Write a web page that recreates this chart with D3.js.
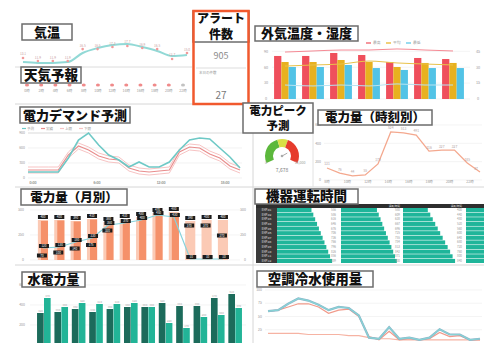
<!DOCTYPE html>
<html><head><meta charset="utf-8">
<script src="https://cdn.jsdelivr.net/npm/d3@7"></script>
<style>
body{margin:0;background:#fff;}
svg{display:block;font-family:"Noto Sans CJK JP","Noto Sans",sans-serif;}
</style>
</head><body>
<svg id="c" width="484" height="343"></svg>
<script>
// ---------------- DATA ----------------
const tempHours = ["0時","2時","4時","6時","8時","10時","12時","14時","16時","18時","20時","22時"];
const tempObserved = [11.5,11.2,11.2,11.5,15.0,16.9,18.1,18.5,17.3,15.8,13.8,14.2];
const tempForecast = [13.1,11.9,11.9,11.9,16.5,16.5,17.3,17.7,16.9,16.5,12.7,15.0];

const weatherHours = ["0時","2時","4時","6時","8時","10時","12時","14時","16時","18時","20時","22時"];
const weatherKinds = ["晴","晴","晴","晴","晴","晴","晴","晴","晴","晴","晴","曇"];

const alertTotal = "905";
const alertToday = "27";
const alertSub = "本日の件数";

const outdoorDays = ["月","火","水","木","金","土","日"];
const outdoorMax = [40.6,40.6,43.4,41.5,34.9,38.7,37.7];
const outdoorAvg = [34.9,34.9,36.8,34.9,30.2,34.0,34.0];
const outdoorMin = [30.2,30.2,32.1,29.2,27.4,29.2,29.2];
const outdoorHumLine = [44.3,45.3,46.2,46.2,47.2,46.2,45.3];
const outdoorAvgLine = [31.1,32.1,33.0,35.8,34.0,33.0,32.1];
const outdoorLowLine = [13.2,12.3,13.2,12.3,14.2,13.2,13.2];
const outdoorLegend = ["最高","平均","最低"];
const outdoorTicks = [0,15,30,45];

const demandTicks = ["0:00","6:00","12:00","18:00","0:00","6:00","12:00","18:00"];
const demandForecast = [120,120,120,120,400,760,900,660,460,360,220,320,220,220,320,560,760,800,780,600,420,200];
const demandActual   = [160,160,160,160,460,640,560,440,380,360,200,140,120,140,160,520,620,600,480,400,240,160];
const demandUpper    = [220,220,220,220,520,700,620,500,440,420,260,200,180,200,220,580,680,660,540,460,300,220];
const demandLower    = [100,100,100,100,400,580,500,380,320,300,140,80,60,80,100,460,560,540,420,340,180,100];
const demandLegend = ["予測","実績","上限","下限"];

const peakValue = 7678;
const peakMax = 10000;
const peakBands = [0,4300,5900,10000];

const hourlyLabels = ["8時","9時","10時","11時","12時","13時","14時","15時","16時","17時","18時","19時","20時"];
const hourlyPower = [131,76,44,55,175,524,513,491,316,327,327,185,87];
const hourlyTicks = ["8時","10時","12時","14時","16時","18時","20時","22時"];

const months = ["4月","5月","6月","7月","8月","9月","10月","11月","12月","1月","2月","3月"];
const monthlyPrev = [400,400,390,410,380,410,430,470,480,390,400,400];
const monthlyCurr = [390,395,385,405,375,400,420,460,470,0,0,0];
const monthlyLine = [120,130,180,220,350,370,400,450,430,10,10,10];
const monthlyTarget = [70,100,140,175,320,null,null,null,null,370,370,270];

const machineRows = ["EHP-01","EHP-02","EHP-03","EHP-04","EHP-05","EHP-06","EHP-07","EHP-08","EHP-09","EHP-10","EHP-11","EHP-12"];
const machineHeaders = ["運転時間","運転時間","運転時間","運転時間"];
const runHours1 = [556,586,616,646,676,706,736,766,796,826,856,889];
const runHours2 = [580,609,638,667,696,725,755,784,813,842,871,900];
const runHours3 = [400,440,480,520,560,600,640,680,720,760,800,840];
const runHours4 = [950,955,960,965,970,975,980,985,990,995,998,1000];

const waterMonths = ["4月","5月","6月","7月","8月","9月","10月","11月","12月","1月","2月","3月"];
const waterPrev = [320,330,360,330,360,380,380,420,390,390,470,510];
const waterCurr = [470,380,420,410,410,420,380,220,170,280,300,370];

const chillCyan = [60,62,74,84,80,72,62,68,66,52,10,8,30,8,10,6,10,26,16,16,6,8];
const chillRed  = [60,62,68,74,74,68,56,62,64,50,12,6,22,6,8,6,8,20,12,14,6,6];
const chillBase = [18,18,18,18,16,16,16,16,14,14,10,8,8,6,6,6,6,6,6,6,6,6];
const chillTicks = [25,50,75,100];

// ---------------- DRAW ----------------
const svg = d3.select("#c");
const GRID = "#ececec", TXT = "#9a9a9a";

function tiny(x,y,t,anchor="middle",fs=4,fill=TXT){
  return svg.append("text").attr("x",x).attr("y",y).attr("text-anchor",anchor)
    .attr("font-size",fs).attr("fill",fill).text(t);
}
function hline(x1,x2,y,c="#dcdcdc",w=1){svg.append("line").attr("x1",x1).attr("x2",x2).attr("y1",y).attr("y2",y).attr("stroke",c).attr("stroke-width",w);}
function vline(x,y1,y2,c="#dcdcdc",w=1){svg.append("line").attr("x1",x).attr("x2",x).attr("y1",y1).attr("y2",y2).attr("stroke",c).attr("stroke-width",w);}
function titleBox(x,y,w,h,lines,fs=13){
  const g = svg.append("g");
  g.append("rect").attr("x",x).attr("y",y).attr("width",w).attr("height",h)
    .attr("fill","#fff").attr("stroke","#6c6c6c").attr("stroke-width",1.5);
  const n = lines.length;
  lines.forEach((t,i)=>{
    g.append("text").attr("x",x+w/2).attr("y",y+h/2+(i-(n-1)/2)*fs*1.3)
      .attr("dy","0.36em").attr("text-anchor","middle").attr("font-size",fs)
      .attr("font-weight",900).attr("fill","#111").text(t);
  });
}
function blackLabel(cx,cy,t){
  svg.append("rect").attr("x",cx-5).attr("y",cy-2).attr("width",10).attr("height",4).attr("fill","#1c1c1c");
  svg.append("text").attr("x",cx).attr("y",cy+1.1).attr("text-anchor","middle").attr("font-size",3).attr("fill","#fff").text(t);
}

// dividers
hline(15,192,67); hline(15,250,104,"#d6d6d6"); hline(15,484,187,"#d6d6d6"); hline(15,484,265,"#d6d6d6");
vline(253,104,343,"#d6d6d6"); vline(313,133,187,"#e2e2e2");

// ---- 気温 ----
{
  const x = d3.scalePoint(tempHours,[23,187]);
  const y = d3.scaleLinear([10,20],[66,40]);
  svg.append("path").datum(tempObserved).attr("fill","none").attr("stroke","#92d9d6").attr("stroke-width",2)
    .attr("d",d3.line().x((d,i)=>x(tempHours[i])).y(d=>y(d)).curve(d3.curveMonotoneX));
  tempForecast.forEach((d,i)=>{
    svg.append("circle").attr("cx",x(tempHours[i])).attr("cy",y(d)).attr("r",1.3).attr("fill","#f19a9a");
    tiny(x(tempHours[i]),y(d)-2.5,d.toFixed(1),"middle",3.2,"#c9a0a0");
  });
}
// ---- 天気予報 ----
{
  const x = d3.scalePoint(weatherHours,[27,183]);
  weatherKinds.forEach((k,i)=>{
    const cx = x(weatherHours[i]);
    svg.append("ellipse").attr("cx",cx).attr("cy",85).attr("rx",2).attr("ry",1.5).attr("fill",k==="晴"?"#f08a8a":"#c2c2c2");
    tiny(cx,91.5,weatherHours[i],"middle",3.5);
  });
}

// ---- 外気温度・湿度 ----
{
  const x0 = d3.scaleBand(outdoorDays,[271,467]).paddingInner(0.22).paddingOuter(0.11);
  const x1 = d3.scaleBand([0,1,2],[0,x0.bandwidth()]);
  const y = d3.scaleLinear([0,50],[99,46]);
  outdoorTicks.forEach(t=>{ hline(272,470,y(t),GRID,0.6); tiny(478,y(t)+1.3,t,"middle",3.8); tiny(266,y(t)+1.3,t*2,"middle",3.8); });
  const cols = ["#ef4f5c","#e8b11f","#52c3e6"];
  [outdoorMax,outdoorAvg,outdoorMin].forEach((arr,s)=>{
    svg.selectAll(null).data(arr).enter().append("rect")
      .attr("x",(d,i)=>x0(outdoorDays[i])+x1(s)).attr("width",x1.bandwidth())
      .attr("y",d=>y(d)).attr("height",d=>y(0)-y(d)).attr("fill",cols[s]);
  });
  const cx = i=>x0(outdoorDays[i])+x0.bandwidth()/2;
  [[outdoorHumLine,"#f58a95"],[outdoorAvgLine,"#e9c24a"],[outdoorLowLine,"#b7e3f2"]].forEach(([arr,c])=>{
    svg.append("path").datum(arr).attr("fill","none").attr("stroke",c).attr("stroke-width",1)
      .attr("d",d3.line().x((d,i)=>cx(i)).y(d=>y(d)).curve(d3.curveMonotoneX));
  });
  outdoorLegend.forEach((t,i)=>{
    const lx = 366+i*20;
    hline(lx,lx+5,43,cols[i],1.2);
    tiny(lx+7,44.3,t,"start",3.8);
  });
}

// ---- アラート件数 ----
titleBox(193,11,56,31,["アラート","件数"],12);
svg.append("text").attr("x",221).attr("y",59).attr("text-anchor","middle").attr("font-size",9).attr("fill","#8a8a8a").text(alertTotal);
hline(196,246,68,"#dddddd");
tiny(199,74,alertSub,"start",3.5);
svg.append("text").attr("x",221).attr("y",99).attr("text-anchor","middle").attr("font-size",10).attr("fill","#7a7a7a").text(alertToday);
svg.append("rect").attr("x",193.5).attr("y",11).attr("width",55).attr("height",93).attr("fill","none").attr("stroke","#f1592e").attr("stroke-width",2.5);

// ---- 電力デマンド予測 ----
{
  const x = d3.scaleLinear([0,demandForecast.length-1],[28,240]);
  const y = d3.scaleLinear([0,900],[178,133]);
  [0,300,600,900].forEach(t=>{ hline(28,242,y(t),t===900?"#c8c8c8":GRID,0.7); tiny(25,y(t)+1.2,t,"end",3.5); });
  const ln = d3.line().x((d,i)=>x(i)).y(d=>y(d));
  [[demandUpper,"#f7c3c3",1],[demandLower,"#f7c3c3",1],[demandActual,"#e98d8d",1.2],[demandForecast,"#6ec9c6",1.6]].forEach(([a,c,w])=>{
    svg.append("path").datum(a).attr("fill","none").attr("stroke",c).attr("stroke-width",w).attr("d",ln);
  });
  const xt = d3.scalePoint(demandTicks,[33,225]);
  demandTicks.forEach((t,i)=>tiny(xt(t),184,t,"middle",3.5));
  const lc = ["#6ec9c6","#e98d8d","#f7c3c3","#f7c3c3"];
  demandLegend.forEach((t,i)=>{ const lx=22+i*19; hline(lx,lx+4,128.5,lc[i],1.2); tiny(lx+5,129.8,t,"start",3.5); });
}

// ---- 電力ピーク予測 gauge ----
{
  const cx=282, cy=156;
  const a = d3.scaleLinear([0,peakMax],[-2.0,2.0]);
  const arc = d3.arc().innerRadius(9).outerRadius(17);
  const gc = ["#5cb83c","#d9df46","#e63b2c"];
  for(let i=0;i<3;i++){
    svg.append("path").attr("transform",`translate(${cx},${cy})`)
      .attr("d",arc({startAngle:a(peakBands[i]),endAngle:a(peakBands[i+1])})).attr("fill",gc[i]);
  }
  const na = a(peakValue);
  svg.append("line").attr("x1",cx).attr("y1",cy).attr("x2",cx+6*Math.sin(na)).attr("y2",cy-6*Math.cos(na)).attr("stroke","#aaa").attr("stroke-width",1);
  svg.append("circle").attr("cx",cx).attr("cy",cy).attr("r",1.3).attr("fill","#aaa");
  tiny(cx,172,d3.format(",")(peakValue),"middle",5,"#777");
  tiny(cx-16,164,"0","middle",3.5);
  tiny(cx+18,164,d3.format(",")(peakMax),"middle",3.5);
}

// ---- 電力量（時刻別） ----
{
  const x = d3.scalePoint(hourlyLabels,[327,480]);
  const y = d3.scaleLinear([0,600],[180,125]);
  [0,200,400,600].forEach(t=>{ hline(324,482,y(t),GRID,0.6); tiny(321,y(t)+1.2,t,"end",3.5); });
  svg.append("path").datum(hourlyPower).attr("fill","none").attr("stroke","#f4a88e").attr("stroke-width",1.3)
    .attr("d",d3.line().x((d,i)=>x(hourlyLabels[i])).y(d=>y(d)));
  hourlyPower.forEach((d,i)=>tiny(Math.min(x(hourlyLabels[i]),476),y(d)-2.5,d,"middle",3.3,"#b0a0a0"));
  const xt = d3.scalePoint(hourlyTicks,[327,470]);
  hourlyTicks.forEach(t=>tiny(xt(t),183,t,"middle",3.5));
}

// ---- 電力量（月別） ----
{
  const x = d3.scaleBand(months,[34.6,231.3]).paddingInner(0.38).paddingOuter(0.2);
  const y = d3.scaleLinear([0,500],[260,210]);
  [0,250,500].forEach(t=>{ hline(30,240,y(t),GRID,0.6); tiny(24,y(t)+1.2,t,"end",3.5); tiny(246,y(t)+1.2,t,"end",3.5); });
  const bw = x.bandwidth();
  svg.selectAll(null).data(monthlyPrev).enter().append("rect")
    .attr("x",(d,i)=>x(months[i])).attr("width",bw).attr("y",d=>y(d)).attr("height",d=>y(0)-y(d)).attr("fill","#fbcab5");
  svg.selectAll(null).data(monthlyCurr).enter().append("rect")
    .attr("x",(d,i)=>x(months[i])+bw*0.3).attr("width",bw*0.7).attr("y",d=>y(d)).attr("height",d=>y(0)-y(d)).attr("fill","#f5916a");
  const cx = i=>x(months[i])+bw/2;
  svg.append("path").datum(monthlyLine).attr("fill","none").attr("stroke","#86d3dc").attr("stroke-width",1.2)
    .attr("d",d3.line().x((d,i)=>cx(i)).y(d=>y(d)));
  monthlyPrev.forEach((d,i)=>blackLabel(cx(i),y(d)-3,d));
  monthlyLine.forEach((d,i)=>blackLabel(cx(i)+1,y(d)-2,d));
  monthlyTarget.forEach((d,i)=>{ if(d!==null) blackLabel(cx(i)-1,y(d)+2.5,d); });
}

// ---- 機器運転時間 ----
{
  const rows = d3.scaleBand(machineRows,[208,263]).paddingInner(0.12);
  const starts = [277,341,403,466];
  const gw = 62;
  const xs = d3.scaleLinear([0,1000],[0,gw]);
  svg.append("rect").attr("x",256).attr("y",204).attr("width",228).attr("height",4).attr("fill","#2e2e2e");
  starts.slice(0,3).forEach((s,j)=>{ if(j>0) tiny(s+gw-3,207.2,machineHeaders[j],"end",2.8,"#ddd"); });
  svg.append("rect").attr("x",256).attr("y",208).attr("width",21).attr("height",55).attr("fill","#3a3a3a");
  machineRows.forEach(r=>tiny(266.5,rows(r)+rows.bandwidth()/2+1,r,"middle",2.8,"#e8e8e8"));
  [runHours1,runHours2,runHours3,runHours4].forEach((arr,j)=>{
    svg.selectAll(null).data(arr).enter().append("rect")
      .attr("x",starts[j]).attr("y",(d,i)=>rows(machineRows[i]))
      .attr("width",d=>xs(d)).attr("height",rows.bandwidth()).attr("fill","#1fb59a");
    if(j<3) arr.forEach((d,i)=>tiny(starts[j]+gw-3,rows(machineRows[i])+rows.bandwidth()/2+1,d,"end",3,"#999"));
  });
}

// ---- 水電力量 ----
{
  const x0 = d3.scaleBand(waterMonths,[35.3,244]).paddingInner(0.2).paddingOuter(0.1);
  const x1 = d3.scaleBand([0,1],[0,x0.bandwidth()]);
  const y = d3.scaleLinear([0,600],[345,285]);
  [200,400,600].forEach(t=>{ hline(30,246,y(t),GRID,0.6); tiny(25,y(t)+1.2,t,"end",3.5); });
  [[waterPrev,"#1c6b5b"],[waterCurr,"#22b497"]].forEach(([arr,c],s)=>{
    svg.selectAll(null).data(arr).enter().append("rect")
      .attr("x",(d,i)=>x0(waterMonths[i])+x1(s)).attr("width",x1.bandwidth()-0.3)
      .attr("y",d=>y(d)).attr("height",d=>y(0)-y(d)).attr("fill",c);
    arr.forEach((d,i)=>tiny(x0(waterMonths[i])+x1(s)+x1.bandwidth()/2,y(d)-1.5,d,"middle",2.8,"#aaa"));
  });
}

// ---- 空調冷水使用量 ----
{
  const x = d3.scaleLinear([0,chillCyan.length-1],[268,480]);
  const y = d3.scaleLinear([0,100],[343,290]);
  chillTicks.forEach(t=>{ hline(265,482,y(t),GRID,0.6); tiny(262,y(t)+1.2,t,"end",3.5); });
  const ln = d3.line().x((d,i)=>x(i)).y(d=>y(d));
  svg.append("path").datum(chillBase).attr("fill","none").attr("stroke","#f6b3a3").attr("stroke-width",1.2).attr("d",ln);
  svg.append("path").datum(chillRed).attr("fill","none").attr("stroke","#f19a8a").attr("stroke-width",1.2).attr("d",ln);
  svg.append("path").datum(chillCyan).attr("fill","none").attr("stroke","#8fb3c8").attr("stroke-width",2.2).attr("d",ln);
  svg.append("path").datum(chillCyan).attr("fill","none").attr("stroke","#86d4d6").attr("stroke-width",1.2).attr("d",ln);
}

// ---- titles on top ----
titleBox(22,24,50,16,["気温"],13);
titleBox(21,67,60,16,["天気予報"],13.5);
titleBox(255,26,103,15,["外気温度・湿度"],13);
titleBox(20,107,110,16,["電力デマンド予測"],13);
titleBox(243,103,70,30,["電力ピーク","予測"],11.5);
titleBox(318,110,114,15,["電力量（時刻別）"],12.5);
titleBox(21,189,106,16,["電力量（月別）"],12.5);
titleBox(255,189,103,15,["機器運転時間"],13.5);
titleBox(22,272,63,15,["水電力量"],13);
titleBox(257,271,116,16,["空調冷水使用量"],13.5);
</script>
</body></html>
